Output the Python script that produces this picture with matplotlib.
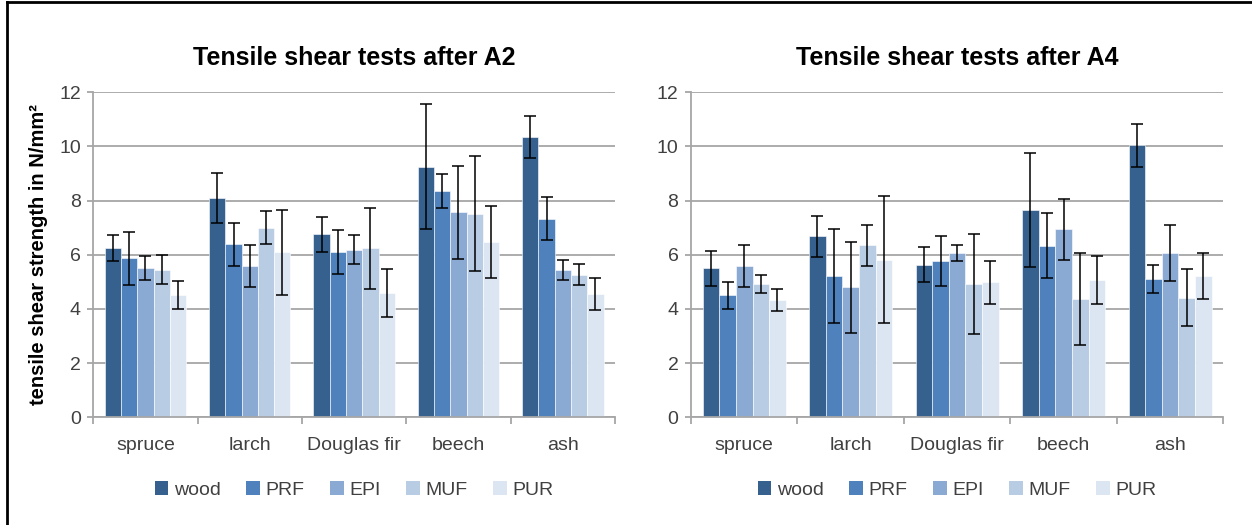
import numpy as np
import matplotlib.pyplot as plt
from matplotlib.patches import Patch

# ----------------------------
# Data
# ----------------------------
species = ['spruce', 'larch', 'Douglas fir', 'beech', 'ash']
adhesives = ['wood', 'PRF', 'EPI', 'MUF', 'PUR']
colors = ['#36618f', '#4f81bd', '#8aaad4', '#b8cce4', '#dce6f2']

# mean tensile shear strength (N/mm2), one row per adhesive
a2_means = [
    [6.25, 8.09, 6.76, 9.25, 10.34],   # wood
    [5.87, 6.39, 6.10, 8.37, 7.33],    # PRF
    [5.50, 5.59, 6.19, 7.57, 5.45],    # EPI
    [5.45, 7.00, 6.24, 7.52, 5.27],    # MUF
    [4.52, 6.09, 4.60, 6.47, 4.55],    # PUR
]
a2_errors = [
    [0.47, 0.92, 0.64, 2.30, 0.78],
    [0.99, 0.80, 0.82, 0.63, 0.80],
    [0.44, 0.78, 0.53, 1.71, 0.37],
    [0.54, 0.61, 1.49, 2.11, 0.40],
    [0.53, 1.57, 0.89, 1.33, 0.60],
]

a4_means = [
    [5.50, 6.68, 5.64, 7.66, 10.04],
    [4.50, 5.21, 5.77, 6.34, 5.12],
    [5.59, 4.80, 6.06, 6.94, 6.06],
    [4.93, 6.35, 4.92, 4.37, 4.42],
    [4.33, 5.82, 4.98, 5.07, 5.21],
]
a4_errors = [
    [0.65, 0.75, 0.63, 2.10, 0.78],
    [0.50, 1.73, 0.93, 1.20, 0.52],
    [0.78, 1.67, 0.30, 1.13, 1.03],
    [0.33, 0.75, 1.85, 1.69, 1.06],
    [0.39, 2.35, 0.80, 0.87, 0.85],
]

plt.rcParams['font.family'] = ['Liberation Sans', 'DejaVu Sans']

fig = plt.figure(figsize=(12.52, 5.25), dpi=100)
ax1 = fig.add_axes([0.0745, 0.2051, 0.4167, 0.6191])
ax2 = fig.add_axes([0.5519, 0.2051, 0.4252, 0.6191])

x = np.arange(len(species))
width = 0.156
grey = '#a6a6a6'
text_col = '#404040'


def draw_panel(ax, means, errors, title):
    for i, name in enumerate(adhesives):
        offset = (i - 2) * width
        ax.bar(x + offset, means[i], width, color=colors[i], edgecolor='white',
               linewidth=0.4, zorder=2, label=name)
        ax.errorbar(x + offset, means[i], yerr=errors[i], fmt='none',
                    ecolor='black', elinewidth=1.1, capsize=4.3, capthick=1.1, zorder=3)
    ax.set_xlim(-0.5, len(species) - 0.5)
    ax.set_ylim(0, 12)
    ax.set_yticks(np.arange(0, 13, 2))
    ax.yaxis.grid(True, color=grey, linewidth=1.3, zorder=0)
    ax.set_axisbelow(True)
    # category boundaries as major ticks, names on minor ticks
    ax.set_xticks(np.arange(-0.5, len(species), 1.0))
    ax.set_xticklabels([])
    ax.set_xticks(x, minor=True)
    ax.set_xticklabels(species, minor=True)
    ax.tick_params(axis='x', which='major', length=5, color=grey, width=1.3)
    ax.tick_params(axis='x', which='minor', length=0, pad=14, labelsize=14, labelcolor=text_col)
    ax.tick_params(axis='y', length=4, color=grey, width=1.3, pad=5, labelsize=14, labelcolor=text_col)
    for side in ['top', 'right']:
        ax.spines[side].set_visible(False)
    for side in ['left', 'bottom']:
        ax.spines[side].set_color(grey)
        ax.spines[side].set_linewidth(1.3)
    ax.set_title(title, fontsize=18, fontweight='bold', pad=20)
    handles = [Patch(facecolor=c, edgecolor='none') for c in colors]
    ax.legend(handles, adhesives, loc='center', bbox_to_anchor=(0.5, -0.224), ncol=5,
              frameon=False, fontsize=14, handlelength=0.7, handleheight=0.7,
              handletextpad=0.3, columnspacing=1.3, labelcolor=text_col)


draw_panel(ax1, a2_means, a2_errors, 'Tensile shear tests after A2')
draw_panel(ax2, a4_means, a4_errors, 'Tensile shear tests after A4')

ax1.set_ylabel('tensile shear strength in N/mm²', fontsize=14.5, fontweight='bold', labelpad=8)

# frame lines along the top and left edge of the picture
fig.add_artist(plt.Line2D([0.0055, 1.0], [0.996, 0.996], color='black', linewidth=2,
                          transform=fig.transFigure))
fig.add_artist(plt.Line2D([0.0055, 0.0055], [0.0, 0.996], color='black', linewidth=2,
                          transform=fig.transFigure))

fig.savefig('out.png', dpi=100)
